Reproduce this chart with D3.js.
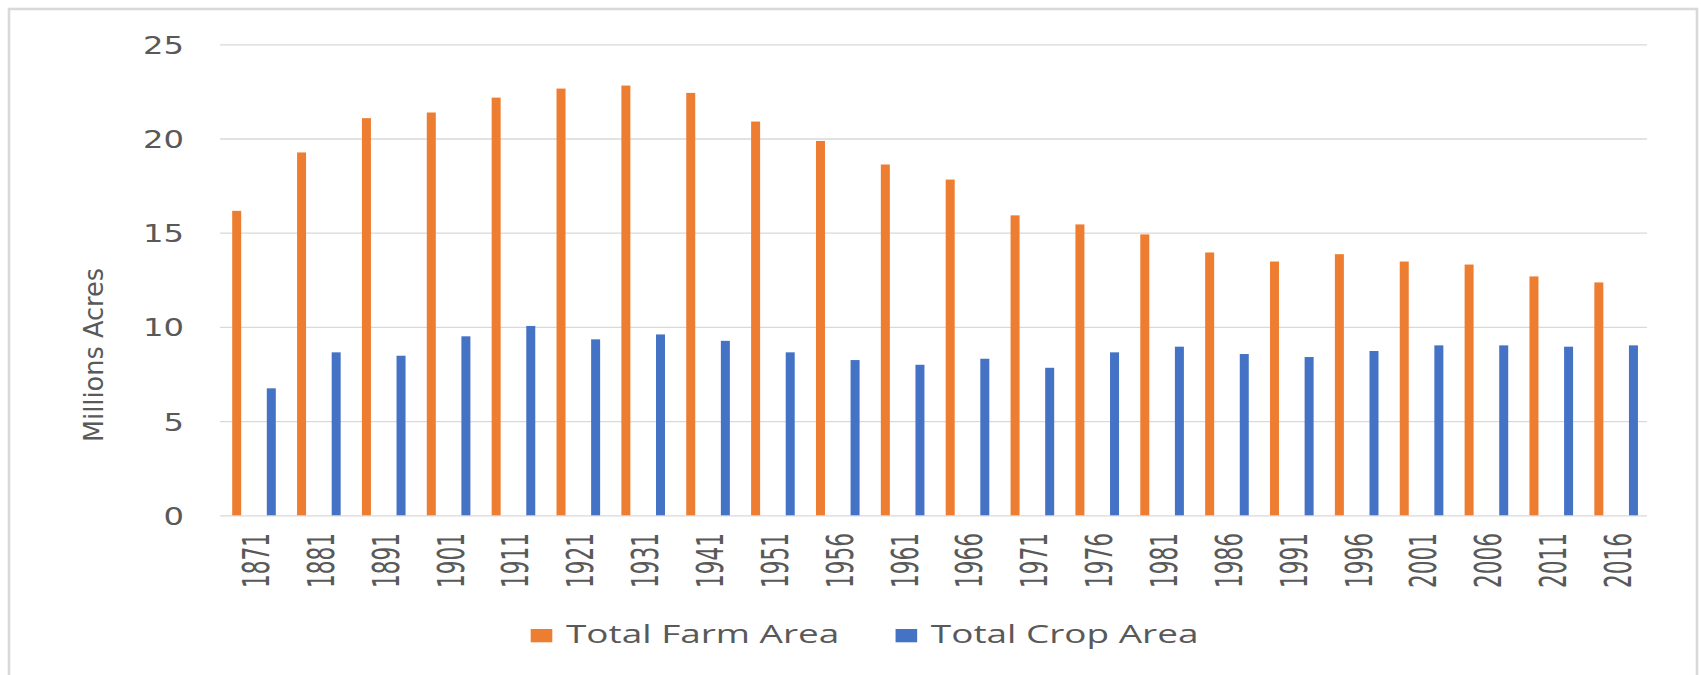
<!DOCTYPE html>
<html>
<head>
<meta charset="utf-8">
<script src="https://cdnjs.cloudflare.com/ajax/libs/d3/7.8.5/d3.min.js"></script>
<style>
  html, body { margin: 0; padding: 0; background: #ffffff; }
  svg { display: block; }
</style>
</head>
<body>
<svg id="chart" width="1701" height="675"></svg>
<script>
// Census years
const years = ["1871","1881","1891","1901","1911","1921","1931","1941","1951","1956","1961",
               "1966","1971","1976","1981","1986","1991","1996","2001","2006","2011","2016"];

// Millions of acres
const farmArea = [16.16, 19.26, 21.08, 21.38, 22.17, 22.65, 22.81, 22.42, 20.90, 19.87, 18.62,
                  17.82, 15.92, 15.44, 14.91, 13.95, 13.47, 13.86, 13.47, 13.31, 12.68, 12.36];
const cropArea = [6.74, 8.65, 8.47, 9.50, 10.05, 9.34, 9.60, 9.26, 8.65, 8.24, 7.99,
                  8.31, 7.83, 8.65, 8.95, 8.56, 8.40, 8.72, 9.02, 9.02, 8.95, 9.02];

const seriesNames = ["Total Farm Area", "Total Crop Area"];
const yTicks = [0, 5, 10, 15, 20, 25];
const yTitle = "Millions Acres";

const seriesColors = ["#ed7d31", "#4472c4"];
const textColor = "#595959";
const gridColor = "#d9d9d9";
const axisFont = "'DejaVu Sans Condensed', 'DejaVu Sans', sans-serif";
const legendFont = "'Open Sans', 'Noto Sans', sans-serif";

const svg = d3.select("#chart");

// chart frame
svg.append("rect")
  .attr("x", 9).attr("y", 9)
  .attr("width", 1688).attr("height", 720)
  .attr("fill", "#ffffff")
  .attr("stroke", gridColor)
  .attr("stroke-width", 2.6);

const plot = { left: 220, right: 1647, top: 44.3, bottom: 515.3 };

const y = d3.scaleLinear().domain([0, 25]).range([plot.bottom, plot.top]);
const x0 = d3.scaleBand().domain(years).range([plot.left, plot.right]).padding(0);
const x1 = d3.scaleBand().domain(seriesNames).range([0, x0.bandwidth()])
  .paddingInner(0.74).paddingOuter(0.307).align(0.574);

// value axis with gridlines
const yAxis = svg.append("g")
  .attr("transform", `translate(${plot.left},0)`)
  .call(d3.axisLeft(y).tickValues(yTicks).tickSize(-(plot.right - plot.left)).tickPadding(36));
yAxis.select(".domain").remove();
yAxis.selectAll(".tick line").attr("stroke", gridColor).attr("stroke-width", 1.3);
const digitW = 20.5;
yAxis.selectAll(".tick text")
  .attr("fill", textColor)
  .style("font-family", axisFont)
  .style("font-size", "25px")
  .attr("dy", "0.36em")
  .attr("textLength", d => String(d).length * digitW)
  .attr("lengthAdjust", "spacingAndGlyphs");

// bars
const rows = years.map((yr, i) => ({ year: yr, values: [farmArea[i], cropArea[i]] }));
const groups = svg.append("g").selectAll("g")
  .data(rows).join("g")
  .attr("transform", d => `translate(${x0(d.year)},0)`);
groups.selectAll("rect")
  .data(d => d.values.map((v, k) => ({ key: seriesNames[k], value: v, k })))
  .join("rect")
  .attr("x", d => x1(d.key))
  .attr("width", x1.bandwidth())
  .attr("y", d => y(d.value))
  .attr("height", d => y(0) - y(d.value))
  .attr("fill", d => seriesColors[d.k]);

// category axis, rotated year labels
const xAxis = svg.append("g")
  .attr("transform", `translate(0,${plot.bottom})`)
  .call(d3.axisBottom(x0).tickSize(0));
xAxis.select(".domain").remove();
xAxis.selectAll(".tick text")
  .attr("fill", textColor)
  .style("font-family", axisFont)
  .style("font-size", "37px")
  .attr("text-anchor", "end")
  .attr("transform", "rotate(-90)")
  .attr("x", -17.7)
  .attr("y", 16.5)
  .attr("dy", 0)
  .attr("textLength", d => d.length * 13.75)
  .attr("lengthAdjust", "spacingAndGlyphs");

// axis title
svg.append("text")
  .attr("transform", "translate(103.3,355) rotate(-90)")
  .attr("text-anchor", "middle")
  .attr("fill", textColor)
  .style("font-family", axisFont)
  .style("font-size", "27px")
  .attr("textLength", 174)
  .attr("lengthAdjust", "spacingAndGlyphs")
  .text(yTitle);

// legend
const legend = svg.append("g");
let lx = 530.7;
seriesNames.forEach((name, k) => {
  legend.append("rect")
    .attr("x", lx).attr("y", 629)
    .attr("width", 21.6).attr("height", 13.3)
    .attr("fill", seriesColors[k]);
  const t = legend.append("text")
    .attr("x", lx + 35.3).attr("y", 643.3)
    .attr("fill", textColor)
    .style("font-family", legendFont)
    .style("font-size", "26px")
    .text(name);
  const natural = t.node().getComputedTextLength();
  const len = natural * 1.42;
  t.attr("textLength", len).attr("lengthAdjust", "spacingAndGlyphs");
  lx += 35.3 + len + 56.3;
});
</script>
</body>
</html>
